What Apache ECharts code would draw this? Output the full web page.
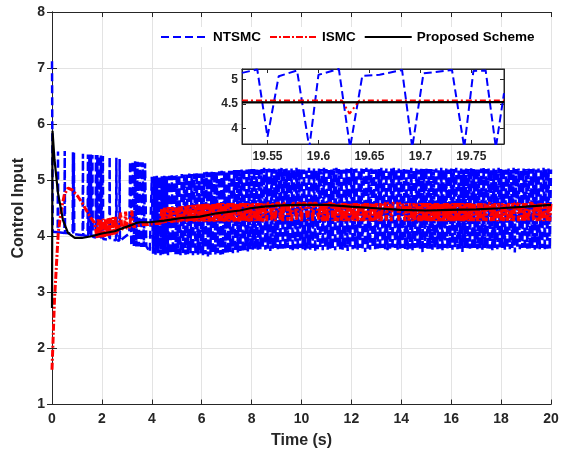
<!DOCTYPE html>
<html>
<head>
<meta charset="utf-8">
<script src="https://cdn.jsdelivr.net/npm/echarts@6/dist/echarts.min.js"></script>
<style>
  html, body { margin: 0; padding: 0; background: #fff; }
  #chart { width: 566px; height: 455px; }
</style>
</head>
<body>
<div id="chart"></div>
<script>
// ---- series names ----
const seriesNames = ['NTSMC', 'ISMC', 'Proposed Scheme'];

// ---- tick values of the zoomed inset ----
const insetTimeTicks = [19.55, 19.6, 19.65, 19.7, 19.75];
const insetValueTicks = [4, 4.5, 5];

// ---- NTSMC: start-up transient and early switching spikes [t, u] ----
const ntsmcStart = [
  [0, 7.12], [0.03, 4.08],
  [0.228, 4.07], [0.24, 5.51], [0.252, 4.07],
  [0.498, 4.06], [0.51, 5.52], [0.522, 4.06],
  [0.828, 4.05], [0.84, 5.50], [0.852, 4.05], [0.868, 4.05], [0.88, 5.49], [0.892, 4.04],
  [1.228, 4.02], [1.24, 5.47], [1.252, 4.02],
  [1.428, 4.00], [1.44, 5.46], [1.452, 4.00], [1.488, 4.00], [1.50, 5.46], [1.512, 4.00],
  [1.548, 3.99], [1.56, 5.46], [1.572, 3.99], [1.608, 3.99], [1.62, 5.45], [1.632, 3.99],
  [1.748, 3.98], [1.76, 5.45], [1.772, 3.98], [1.808, 3.97], [1.82, 5.45], [1.832, 3.97],
  [1.888, 3.97], [1.90, 5.44], [1.912, 3.96], [1.948, 3.96], [1.96, 5.44], [1.972, 3.96],
  [2.028, 3.95], [2.04, 5.43], [2.052, 3.95],
  [2.298, 3.94], [2.31, 5.42], [2.322, 3.94],
  [2.568, 3.93], [2.58, 5.40], [2.592, 3.93],
  [2.698, 3.92], [2.71, 5.38], [2.722, 3.92],
  [3.10, 4.05],
  [3.13, 5.33], [3.18, 3.83], [3.23, 5.34], [3.28, 3.82], [3.33, 5.34], [3.38, 3.82],
  [3.43, 5.33], [3.48, 3.82], [3.53, 5.32], [3.58, 3.81], [3.63, 5.32], [3.68, 3.81],
  [3.73, 5.30], [3.78, 3.82], [3.92, 3.72]
];

// ---- NTSMC: chattering band sampled every 0.05 s from t = 4 s ----
const ntsmcBandT0 = 4.0;
const ntsmcBandDt = 0.05;
const ntsmcBand = [
  5.06,3.69,5.07,3.67,5.08,3.70,5.06,3.66,5.07,3.68,5.08,3.69,5.07,3.66,5.08,3.68,5.09,3.70,5.08,3.67,
  5.09,3.68,5.10,3.66,5.11,3.69,5.10,3.67,5.11,3.68,5.12,3.70,5.11,3.66,5.12,3.68,5.13,3.67,5.12,3.69,
  5.13,3.66,5.14,3.68,5.15,3.64,5.14,3.67,5.15,3.69,5.16,3.66,5.15,3.70,5.16,3.67,5.17,3.68,5.16,3.70,
  5.17,3.69,5.18,3.72,5.17,3.70,5.18,3.73,5.19,3.71,5.18,3.74,5.19,3.72,5.20,3.75,5.19,3.73,5.20,3.76,
  5.20,3.76,5.21,3.78,5.19,3.75,5.21,3.77,5.20,3.79,5.22,3.76,5.20,3.78,5.21,3.74,5.20,3.77,5.21,3.79,
  5.19,3.77,5.21,3.75,5.22,3.78,5.20,3.76,5.21,3.79,5.19,3.77,5.21,3.74,5.20,3.78,5.22,3.76,5.20,3.79,
  5.21,3.77,5.19,3.75,5.21,3.78,5.22,3.76,5.20,3.79,5.21,3.73,5.19,3.77,5.21,3.78,5.20,3.75,5.22,3.79,
  5.20,3.76,5.21,3.78,5.19,3.77,5.21,3.75,5.22,3.79,5.20,3.77,5.21,3.76,5.19,3.78,5.21,3.74,5.20,3.79,
  5.22,3.77,5.20,3.78,5.21,3.76,5.19,3.79,5.21,3.77,5.20,3.72,5.22,3.78,5.20,3.76,5.21,3.79,5.19,3.77,
  5.21,3.78,5.20,3.76,5.22,3.79,5.20,3.77,5.21,3.75,5.19,3.78,5.21,3.77,5.22,3.79,5.20,3.76,5.21,3.78,
  5.20,3.79,5.21,3.77,5.19,3.76,5.21,3.78,5.22,3.75,5.20,3.79,5.21,3.77,5.19,3.78,5.21,3.71,5.20,3.79,
  5.22,3.77,5.20,3.78,5.21,3.76,5.19,3.79,5.21,3.77,5.20,3.78,5.22,3.75,5.20,3.79,5.21,3.77,5.19,3.78,
  5.21,3.76,5.20,3.79,5.22,3.77,5.20,3.78,5.21,3.72,5.19,3.79,5.21,3.77,5.20,3.78,5.22,3.76,5.20,3.79,
  5.21,3.77,5.19,3.78,5.21,3.76,5.22,3.79,5.20,3.77,5.21,3.78,5.19,3.75,5.21,3.79,5.20,3.77,5.22,3.78,
  5.20,3.79,5.21,3.76,5.19,3.78,5.21,3.77,5.20,3.79,5.22,3.71,5.20,3.78,5.21,3.77,5.19,3.79,5.21,3.76,
  5.20,3.78,5.22,3.77,5.20,3.79,5.21,3.76,5.19,3.78,5.21,3.77,5.20,3.79,5.22,3.75,5.20,3.78,5.21,3.77,
  5.19
];

// ---- ISMC: reaching phase [t, u] ----
const ismcStart = [
  [0, 1.62], [0.1, 2.87], [0.25, 4.06], [0.37, 4.47], [0.5, 4.75], [0.64, 4.86],
  [0.8, 4.83], [1.04, 4.71], [1.2, 4.6], [1.37, 4.47], [1.55, 4.33], [1.71, 4.24]
];

// ---- ISMC: switching band sampled every 0.05 s from t = 1.8 s ----
const ismcBandT0 = 1.8;
const ismcBandDt = 0.05;
const ismcBand = [
  3.97,4.30,3.98,4.31,3.98,4.31,3.99,4.32,4.00,4.32,4.01,4.33,4.02,4.34,4.03,4.35,4.05,4.12,4.12,4.42,
  4.13,4.13,4.14,4.44,4.14,4.15,4.15,4.16,4.46,4.17,4.18,4.18,4.19,4.19,4.20,4.20,4.20,4.21,4.21,4.21,
  4.21,4.21,4.22,4.22,4.22,4.22,4.22,4.23,4.23,4.23,4.23,4.23,4.50,4.23,4.51,4.24,4.24,4.52,4.24,4.52,
  4.24,4.52,4.25,4.25,4.53,4.25,4.53,4.26,4.54,4.26,4.26,4.54,4.26,4.55,4.27,4.55,4.27,4.56,4.26,4.56,
  4.27,4.57,4.26,4.57,4.27,4.58,4.26,4.58,4.27,4.58,4.26,4.58,4.27,4.59,4.26,4.58,4.27,4.59,4.26,4.59,
  4.27,4.59,4.26,4.59,4.27,4.59,4.26,4.59,4.27,4.59,4.26,4.59,4.27,4.59,4.26,4.59,4.27,4.59,4.27,4.59,
  4.27,4.59,4.26,4.59,4.27,4.59,4.59,4.27,4.59,4.26,4.59,4.27,4.59,4.26,4.59,4.59,4.27,4.59,4.59,4.59,
  4.28,4.59,4.59,4.27,4.59,4.59,4.59,4.28,4.59,4.27,4.59,4.59,4.59,4.28,4.59,4.59,4.27,4.59,4.59,4.59,
  4.28,4.59,4.59,4.59,4.27,4.59,4.59,4.59,4.59,4.28,4.59,4.59,4.59,4.27,4.59,4.59,4.59,4.59,4.28,4.59,
  4.59,4.27,4.59,4.27,4.59,4.27,4.59,4.59,4.59,4.28,4.59,4.27,4.59,4.27,4.59,4.59,4.28,4.59,4.27,4.59,
  4.27,4.59,4.27,4.59,4.59,4.28,4.59,4.27,4.59,4.27,4.59,4.59,4.27,4.59,4.27,4.59,4.28,4.59,4.59,4.27,
  4.59,4.27,4.59,4.28,4.59,4.59,4.27,4.59,4.27,4.59,4.59,4.59,4.28,4.59,4.59,4.59,4.27,4.59,4.59,4.59,
  4.59,4.59,4.28,4.59,4.59,4.59,4.59,4.27,4.59,4.59,4.28,4.59,4.59,4.27,4.59,4.27,4.59,4.59,4.27,4.59,
  4.27,4.59,4.27,4.59,4.27,4.59,4.27,4.59,4.27,4.59,4.27,4.59,4.27,4.59,4.27,4.59,4.27,4.59,4.27,4.59,
  4.27,4.59,4.27,4.59,4.27,4.59,4.27,4.59,4.27,4.59,4.27,4.59,4.27,4.59,4.27,4.59,4.27,4.59,4.27,4.59,
  4.27,4.59,4.27,4.59,4.59,4.27,4.59,4.27,4.59,4.59,4.28,4.59,4.27,4.59,4.59,4.59,4.27,4.59,4.27,4.59,
  4.59,4.27,4.59,4.59,4.28,4.59,4.27,4.59,4.59,4.27,4.59,4.59,4.28,4.59,4.27,4.59,4.59,4.59,4.27,4.59,
  4.59,4.28,4.59,4.27,4.59,4.59,4.27,4.59,4.59,4.59,4.28,4.59,4.59,4.27,4.59,4.28,4.59,4.59,4.27,4.59,
  4.59,4.28,4.59,4.27,4.59
];

// ---- Proposed scheme [t, u] ----
const proposed = [
  [0, 2.72], [0.02, 5.88], [0.1, 5.37], [0.24, 4.77], [0.44, 4.29], [0.64, 4.06],
  [0.91, 3.97], [1.2, 3.97], [1.58, 4.0], [2.0, 4.05], [2.51, 4.09], [2.86, 4.15],
  [3.2, 4.2], [3.39, 4.24], [3.53, 4.25], [3.93, 4.25], [4.5, 4.28], [5.26, 4.33],
  [5.93, 4.35], [6.6, 4.41], [7.0, 4.43], [7.53, 4.46], [7.94, 4.5], [8.5, 4.53],
  [9.2, 4.55], [9.94, 4.56], [11.0, 4.56], [11.95, 4.53], [13.0, 4.5], [13.95, 4.47],
  [15.0, 4.46], [15.95, 4.47], [17.0, 4.48], [17.96, 4.5], [19.0, 4.53], [20.0, 4.56]
];

// ---- Zoomed window 19.525 s .. 19.782 s ----
const insetNtsmc = [
  [19.525, 5.14], [19.540, 5.21], [19.550, 3.82], [19.561, 5.07], [19.579, 5.19],
  [19.591, 3.60], [19.600, 5.10], [19.620, 5.22], [19.631, 3.60], [19.643, 5.08],
  [19.660, 5.10], [19.682, 5.20], [19.692, 3.60], [19.703, 5.13], [19.731, 5.20],
  [19.743, 3.60], [19.752, 5.18], [19.764, 5.19], [19.774, 3.60], [19.782, 4.72]
];
const insetIsmc = [
  [19.525, 4.57], [19.623, 4.57], [19.6305, 4.30], [19.640, 4.57], [19.782, 4.57]
];
const insetProposed = [
  [19.525, 4.533], [19.782, 4.537]
];

// ---- assemble sampled bands into [t, u] pairs ----
function sampled(t0, dt, values) {
  return values.map((u, i) => [+(t0 + i * dt).toFixed(3), u]);
}
const ntsmcMain = ntsmcStart.concat(sampled(ntsmcBandT0, ntsmcBandDt, ntsmcBand));
const ismcMain = ismcStart.concat(sampled(ismcBandT0, ismcBandDt, ismcBand));

// ---- styling ----
const FONT = '"Liberation Sans", Arial, Helvetica, sans-serif';
const AX = '#262626';
const BLUE = '#0000ff', RED = '#ff0000', BLACK = '#000000';
const DASH = [8, 4];
const DASHDOT = [6, 3, 2, 3];
const DASHDOT_DENSE = [7, 2, 2, 2];

const tickLabel = { fontFamily: FONT, fontWeight: 'bold', fontSize: 14, color: AX };
const insetLabel = { fontFamily: FONT, fontWeight: 'bold', fontSize: 12, color: AX };

function boxAxis(gridIndex, position, extra) {
  return Object.assign({
    type: 'value', gridIndex, position,
    axisLine: { show: true, lineStyle: { color: AX, width: 1 } },
    axisTick: { show: true, inside: true, length: 5, lineStyle: { color: AX } },
    axisLabel: { show: false },
    splitLine: { show: false }
  }, extra);
}

const chart = echarts.init(document.getElementById('chart'), null, { renderer: 'canvas' });

const option = {
  animation: false,
  backgroundColor: '#ffffff',
  textStyle: { fontFamily: FONT },
  grid: [
    { left: 52, right: 15, top: 12, bottom: 50.5, show: false },
    { left: 242, right: 62, top: 69, bottom: 311, show: true,
      backgroundColor: '#ffffff', borderColor: AX, borderWidth: 1, z: 10 }
  ],
  legend: {
    data: seriesNames,
    top: 27, left: 156,
    padding: [3, 4],
    backgroundColor: '#ffffff',
    itemWidth: 47, itemHeight: 12, itemGap: 8,
    itemStyle: { color: 'transparent', borderWidth: 0, opacity: 0 },
    lineStyle: { width: 2 },
    textStyle: { fontFamily: FONT, fontWeight: 'bold', fontSize: 13.5, color: '#000' }
  },
  xAxis: [
    boxAxis(0, 'bottom', {
      min: 0, max: 20, interval: 2,
      axisLabel: Object.assign({ show: true, margin: 8 }, tickLabel),
      splitLine: { show: true, lineStyle: { color: '#e3e3e3', width: 1 } },
      name: 'Time (s)', nameLocation: 'middle', nameGap: 28,
      nameTextStyle: { fontFamily: FONT, fontWeight: 'bold', fontSize: 16, color: AX }
    }),
    boxAxis(0, 'top', { min: 0, max: 20, interval: 2 }),
    boxAxis(1, 'bottom', {
      min: 19.525, max: 19.782, z: 11,
      axisTick: { show: true, inside: true, length: 4, customValues: insetTimeTicks, lineStyle: { color: AX } },
      axisLabel: Object.assign({ show: true, margin: 7, customValues: insetTimeTicks,
        formatter: v => String(+(+v).toFixed(2)) }, insetLabel)
    }),
    boxAxis(1, 'top', {
      min: 19.525, max: 19.782, z: 11,
      axisTick: { show: true, inside: true, length: 4, customValues: insetTimeTicks, lineStyle: { color: AX } }
    })
  ],
  yAxis: [
    boxAxis(0, 'left', {
      min: 1, max: 8, interval: 1,
      axisLabel: Object.assign({ show: true, margin: 7 }, tickLabel),
      splitLine: { show: true, lineStyle: { color: '#e3e3e3', width: 1 } },
      name: 'Control Input', nameLocation: 'middle', nameGap: 24, nameRotate: 90,
      nameTextStyle: { fontFamily: FONT, fontWeight: 'bold', fontSize: 16, color: AX }
    }),
    boxAxis(0, 'right', { min: 1, max: 8, interval: 1 }),
    boxAxis(1, 'left', {
      min: 3.675, max: 5.22, z: 11,
      axisTick: { show: true, inside: true, length: 4, customValues: insetValueTicks, lineStyle: { color: AX } },
      axisLabel: Object.assign({ show: true, margin: 4, customValues: insetValueTicks,
        formatter: v => String(+(+v).toFixed(2)) }, insetLabel)
    }),
    boxAxis(1, 'right', {
      min: 3.675, max: 5.22, z: 11,
      axisTick: { show: true, inside: true, length: 4, customValues: insetValueTicks, lineStyle: { color: AX } }
    })
  ],
  series: [
    { name: seriesNames[0], type: 'line', xAxisIndex: 0, yAxisIndex: 0, data: ntsmcMain,
      symbol: 'none', z: 2, lineStyle: { color: BLUE, width: 2.5, type: DASH }, itemStyle: { color: BLUE } },
    { name: seriesNames[1], type: 'line', xAxisIndex: 0, yAxisIndex: 0, data: ismcMain,
      symbol: 'none', z: 3, lineStyle: { color: RED, width: 3, type: DASHDOT_DENSE }, itemStyle: { color: RED } },
    { name: seriesNames[2], type: 'line', xAxisIndex: 0, yAxisIndex: 0, data: proposed,
      symbol: 'none', z: 4, lineStyle: { color: BLACK, width: 2.2 }, itemStyle: { color: BLACK } },

    { name: seriesNames[0], type: 'line', xAxisIndex: 2, yAxisIndex: 2, data: insetNtsmc,
      symbol: 'none', z: 12, clip: true, lineStyle: { color: BLUE, width: 2, type: DASH }, itemStyle: { color: BLUE } },
    { name: seriesNames[1], type: 'line', xAxisIndex: 2, yAxisIndex: 2, data: insetIsmc,
      symbol: 'none', z: 13, clip: true, lineStyle: { color: RED, width: 2, type: DASHDOT }, itemStyle: { color: RED } },
    { name: seriesNames[2], type: 'line', xAxisIndex: 2, yAxisIndex: 2, data: insetProposed,
      symbol: 'none', z: 14, clip: true, lineStyle: { color: BLACK, width: 2.2 }, itemStyle: { color: BLACK } }
  ]
};

chart.setOption(option);
</script>
</body>
</html>
